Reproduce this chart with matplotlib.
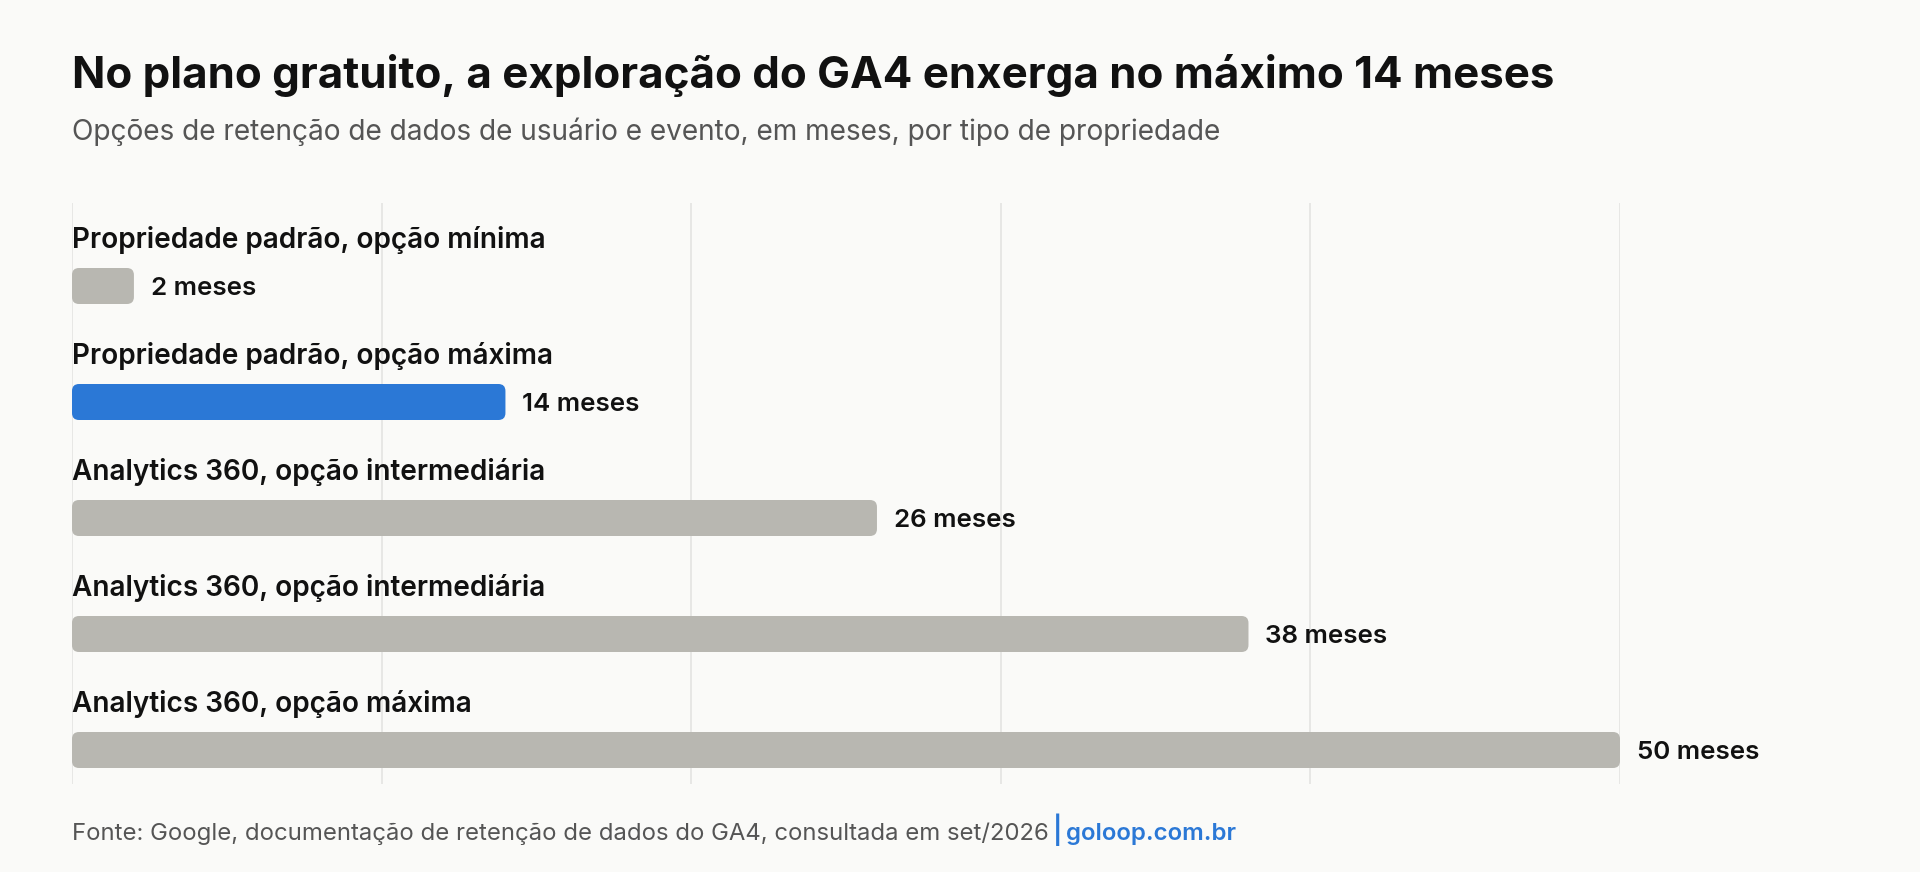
import matplotlib
matplotlib.use("Agg")
import matplotlib.pyplot as plt
from matplotlib.patches import FancyBboxPatch

categories = [
    "Propriedade padrão, opção mínima",
    "Propriedade padrão, opção máxima",
    "Analytics 360, opção intermediária",
    "Analytics 360, opção intermediária",
    "Analytics 360, opção máxima",
]
values = [2, 14, 26, 38, 50]
highlight = [False, True, False, False, False]
value_labels = ["2 meses", "14 meses", "26 meses", "38 meses", "50 meses"]
grid_ticks = [0, 10, 20, 30, 40, 50]

title = "No plano gratuito, a exploração do GA4 enxerga no máximo 14 meses"
subtitle = "Opções de retenção de dados de usuário e evento, em meses, por tipo de propriedade"
source = "Fonte: Google, documentação de retenção de dados do GA4, consultada em set/2026"
brand = "goloop.com.br"

W, H = 1920, 872
BG = "#FAFAF8"
GREY = "#B8B7B1"
BLUE = "#2B78D6"
GRID = "#E6E6E3"
TXT = "#111111"
SUB = "#555555"

plt.rcParams["font.family"] = ["Inter", "DejaVu Sans"]

fig = plt.figure(figsize=(W / 100, H / 100), dpi=100, facecolor=BG)

def fx(px):
    return px / W

def fy(py):
    return 1 - py / H

left_px, right_px = 72, 1620
top_px, bot_px = 203, 784
ax = fig.add_axes([fx(left_px), fy(bot_px), (right_px - left_px) / W, (bot_px - top_px) / H])
ax.set_facecolor(BG)
n = len(values)
ypos = list(range(n))
first_c, step = 286, 116
ax.set_xlim(0, 50)
ax.set_ylim(4 + (bot_px - 750) / step, -(first_c - top_px) / step)
for s in ax.spines.values():
    s.set_visible(False)
ax.set_xticks(grid_ticks)
ax.set_yticks([])
ax.tick_params(axis="x", length=0, labelbottom=False)
ax.grid(axis="x", color=GRID, linewidth=1.3)
ax.set_axisbelow(True)

px_per_x = (right_px - left_px) / 50.0
px_per_y = step
bar_h = 36 / step
radius_px = 7
bars = ax.barh(ypos, values, height=bar_h, color="none")
for b, v, hl in zip(bars, values, highlight):
    x0, y0 = b.get_x(), b.get_y()
    w, h = b.get_width(), b.get_height()
    b.remove()
    p = FancyBboxPatch((x0, y0), w, h,
                       boxstyle=f"round,pad=0,rounding_size={radius_px / px_per_x}",
                       mutation_aspect=px_per_x / px_per_y,
                       facecolor=BLUE if hl else GREY, edgecolor="none", zorder=3)
    ax.add_patch(p)

for y, v, cat, lab in zip(ypos, values, categories, value_labels):
    ax.text(v + 17 / px_per_x, y, lab, ha="left", va="center_baseline",
            fontsize=18.7, fontweight="semibold", color=TXT, clip_on=False)
    ax.text(0, y - 49.5 / px_per_y, cat, ha="left", va="center_baseline",
            fontsize=20.15, fontweight="semibold", color=TXT, clip_on=False)

fig.text(fx(72), fy(88), title, ha="left", va="baseline", fontsize=31.6,
         fontweight="bold", color=TXT)
fig.text(fx(72), fy(140), subtitle, ha="left", va="baseline", fontsize=20.2,
         color=SUB)

t = fig.text(fx(72), fy(840), source, ha="left", va="baseline", fontsize=17.2, color=SUB)
fig.canvas.draw()
bb = t.get_window_extent()
sep_x = bb.x1 + 4
fig.text(sep_x / W, fy(840), "|", ha="left", va="baseline", fontsize=19,
         color=BLUE, fontweight="semibold")
fig.text((sep_x + 13) / W, fy(840), brand, ha="left", va="baseline", fontsize=17.3,
         color=BLUE, fontweight="semibold")

fig.savefig("out.png", dpi=100, facecolor=BG)
